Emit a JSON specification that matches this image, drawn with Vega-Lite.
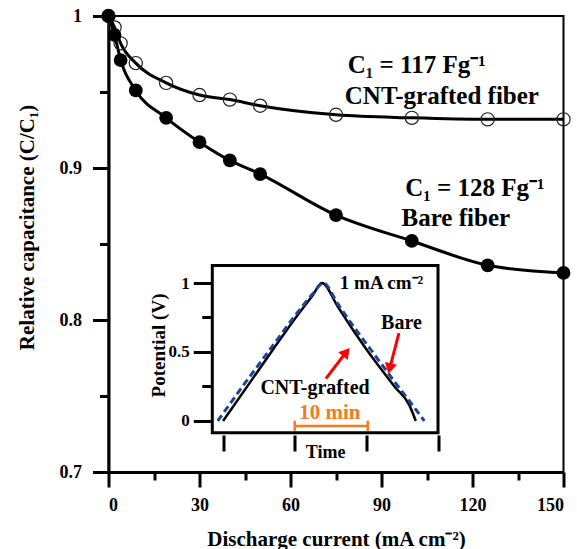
{
  "$schema": "https://vega.github.io/schema/vega-lite/v6.json",
  "width": 455,
  "height": 456,
  "autosize": "none",
  "padding": {"left": 108.5, "top": 16, "right": 13.5, "bottom": 77},
  "background": "white",
  "config": {
    "view": {"stroke": "black", "strokeWidth": 2},
    "font": "Liberation Serif",
    "axis": {
      "labelFont": "Liberation Serif", "titleFont": "Liberation Serif",
      "labelFontWeight": "bold", "titleFontWeight": "bold",
      "labelColor": "black", "titleColor": "black",
      "tickColor": "black", "domainColor": "black", "grid": false
    }
  },
  "datasets": {
    "capacitance": [
      {"fiber": "CNT-grafted fiber", "current": 0, "ratio": 1.0},
      {"fiber": "CNT-grafted fiber", "current": 2, "ratio": 0.9925},
      {"fiber": "CNT-grafted fiber", "current": 4, "ratio": 0.982},
      {"fiber": "CNT-grafted fiber", "current": 9, "ratio": 0.969},
      {"fiber": "CNT-grafted fiber", "current": 19, "ratio": 0.956},
      {"fiber": "CNT-grafted fiber", "current": 30, "ratio": 0.948},
      {"fiber": "CNT-grafted fiber", "current": 40, "ratio": 0.945},
      {"fiber": "CNT-grafted fiber", "current": 50, "ratio": 0.941},
      {"fiber": "CNT-grafted fiber", "current": 75, "ratio": 0.935},
      {"fiber": "CNT-grafted fiber", "current": 100, "ratio": 0.933},
      {"fiber": "CNT-grafted fiber", "current": 125, "ratio": 0.932},
      {"fiber": "CNT-grafted fiber", "current": 150, "ratio": 0.932},
      {"fiber": "Bare fiber", "current": 0, "ratio": 1.0},
      {"fiber": "Bare fiber", "current": 2, "ratio": 0.9875},
      {"fiber": "Bare fiber", "current": 4, "ratio": 0.971},
      {"fiber": "Bare fiber", "current": 9, "ratio": 0.951},
      {"fiber": "Bare fiber", "current": 19, "ratio": 0.933},
      {"fiber": "Bare fiber", "current": 30, "ratio": 0.917},
      {"fiber": "Bare fiber", "current": 40, "ratio": 0.905},
      {"fiber": "Bare fiber", "current": 50, "ratio": 0.896},
      {"fiber": "Bare fiber", "current": 75, "ratio": 0.869},
      {"fiber": "Bare fiber", "current": 100, "ratio": 0.852},
      {"fiber": "Bare fiber", "current": 125, "ratio": 0.836},
      {"fiber": "Bare fiber", "current": 150, "ratio": 0.831}
    ],
    "mainLabels": [
      {"text": "C₁ = 117 Fg⁻¹", "current": 101.6, "ratio": 0.9678},
      {"text": "CNT-grafted fiber", "current": 109.9, "ratio": 0.9474},
      {"text": "C₁ = 128 Fg⁻¹", "current": 120.8, "ratio": 0.8866},
      {"text": "Bare fiber", "current": 114.5, "ratio": 0.8669}
    ],
    "potential": [
      {"sample": "CNT-grafted", "time": 0, "potential": 0},
      {"sample": "CNT-grafted", "time": 3.5, "potential": 0.26},
      {"sample": "CNT-grafted", "time": 7, "potential": 0.52},
      {"sample": "CNT-grafted", "time": 10, "potential": 0.74},
      {"sample": "CNT-grafted", "time": 12.5, "potential": 0.91},
      {"sample": "CNT-grafted", "time": 13.8, "potential": 1.0},
      {"sample": "CNT-grafted", "time": 16, "potential": 0.83},
      {"sample": "CNT-grafted", "time": 18, "potential": 0.67},
      {"sample": "CNT-grafted", "time": 20, "potential": 0.52},
      {"sample": "CNT-grafted", "time": 22, "potential": 0.38},
      {"sample": "CNT-grafted", "time": 24, "potential": 0.245},
      {"sample": "CNT-grafted", "time": 26, "potential": 0.115},
      {"sample": "CNT-grafted", "time": 26.9, "potential": 0},
      {"sample": "Bare", "time": -0.75, "potential": 0},
      {"sample": "Bare", "time": 3, "potential": 0.27},
      {"sample": "Bare", "time": 7, "potential": 0.55},
      {"sample": "Bare", "time": 10, "potential": 0.76},
      {"sample": "Bare", "time": 12.5, "potential": 0.92},
      {"sample": "Bare", "time": 14, "potential": 1.0},
      {"sample": "Bare", "time": 16, "potential": 0.85},
      {"sample": "Bare", "time": 18, "potential": 0.7},
      {"sample": "Bare", "time": 20, "potential": 0.56},
      {"sample": "Bare", "time": 22, "potential": 0.42},
      {"sample": "Bare", "time": 24, "potential": 0.28},
      {"sample": "Bare", "time": 26, "potential": 0.145},
      {"sample": "Bare", "time": 28.1, "potential": 0}
    ],
    "minorTicks": [
      {"potential": 0.25},
      {"potential": 0.75}
    ],
    "arrows": [
      {"target": "CNT-grafted", "time": 14.35, "potential": 0.307, "time2": 17.2, "potential2": 0.5},
      {"target": "Bare", "time": 24.55, "potential": 0.636, "time2": 23.25, "potential2": 0.38}
    ],
    "scaleBar": [
      {"label": "10 min", "start": 10, "end": 20.2}
    ],
    "insetLabels": [
      {"text": "1 mA cm⁻²", "time": 16.3, "potential": 1.0},
      {"text": "Bare", "time": 24.9, "potential": 0.712},
      {"text": "CNT-grafted", "time": 12.84, "potential": 0.237}
    ]
  },
  "layer": [
    {
      "layer": [
        {
          "data": {"name": "capacitance"},
          "mark": {"type": "line", "interpolate": "monotone", "stroke": "black", "strokeWidth": 3},
          "encoding": {
            "x": {
              "field": "current", "type": "quantitative",
              "scale": {"domain": [0, 150], "nice": false, "zero": false},
              "axis": {
                "values": [0, 15, 30, 45, 60, 75, 90, 105, 120, 135, 150],
                "labelExpr": "datum.value % 30 === 0 ? datum.label : ''",
                "tickSize": {"condition": {"test": "datum.value % 30 !== 0", "value": 8}, "value": 15},
                "tickWidth": 3, "domainWidth": 3,
                "labelFontSize": 18, "labelPadding": 9,
                "title": "Discharge current (mA cm⁻²)", "titleFontSize": 21,
                "titleY": 73, "titleBaseline": "alphabetic"
              }
            },
            "y": {
              "field": "ratio", "type": "quantitative",
              "scale": {"domain": [0.7, 1.0], "nice": false, "zero": false},
              "axis": {
                "values": [0.7, 0.75, 0.8, 0.85, 0.9, 0.95, 1.0],
                "labelExpr": "round(datum.value * 100) % 10 === 0 ? format(datum.value, '~g') : ''",
                "tickSize": {"condition": {"test": "round(datum.value * 100) % 10 !== 0", "value": 9}, "value": 16},
                "tickWidth": 3, "domainWidth": 3,
                "labelFontSize": 18, "labelPadding": 11,
                "title": "Relative capacitance (C/C₁)", "titleFontSize": 21,
                "titleX": -71, "titleY": 211
              }
            },
            "detail": {"field": "fiber"}
          }
        },
        {
          "data": {"name": "capacitance"},
          "transform": [{"filter": "datum.fiber === 'CNT-grafted fiber'"}],
          "mark": {"type": "point", "shape": "circle", "filled": false, "stroke": "#222", "strokeWidth": 1.2, "size": 175, "opacity": 1},
          "encoding": {
            "x": {"field": "current", "type": "quantitative"},
            "y": {"field": "ratio", "type": "quantitative"}
          }
        },
        {
          "data": {"name": "capacitance"},
          "transform": [{"filter": "datum.fiber === 'Bare fiber'"}],
          "mark": {"type": "point", "shape": "circle", "filled": true, "fill": "black", "size": 190, "opacity": 1},
          "encoding": {
            "x": {"field": "current", "type": "quantitative"},
            "y": {"field": "ratio", "type": "quantitative"}
          }
        },
        {
          "data": {"name": "mainLabels"},
          "mark": {"type": "text", "font": "Liberation Serif", "fontWeight": "bold", "fontSize": 25, "align": "center", "baseline": "middle", "color": "black"},
          "encoding": {
            "x": {"field": "current", "type": "quantitative"},
            "y": {"field": "ratio", "type": "quantitative"},
            "text": {"field": "text"}
          }
        }
      ]
    },
    {
      "layer": [
        {
          "data": {"values": [{"panel": "inset"}]},
          "mark": {"type": "rect", "fill": "white", "stroke": "black", "strokeWidth": 3},
          "encoding": {
            "x": {
              "datum": -1.5, "type": "quantitative",
              "scale": {"domain": [-1.5, 30], "range": [103.8, 329.5], "nice": false, "zero": false},
              "axis": {
                "orient": "bottom", "offset": -37,
                "values": [0, 10, 20, 30], "labels": false, "domain": false,
                "tickSize": 16, "tickWidth": 3,
                "title": "Time", "titleFontSize": 18, "titleY": 22, "titleBaseline": "alphabetic"
              }
            },
            "x2": {"datum": 30},
            "y": {
              "datum": -0.085, "type": "quantitative",
              "scale": {"domain": [-0.085, 1.127], "range": [416.7, 249.5], "nice": false, "zero": false},
              "axis": {
                "orient": "left", "offset": -103.8,
                "values": [0, 0.5, 1],
                "format": "~g",
                "tickSize": 19,
                "tickWidth": 3, "domain": false,
                "labelFontSize": 17, "labelPadding": 4,
                "title": "Potential (V)", "titleFontSize": 19,
                "titleX": -44, "titleY": 329
              }
            },
            "y2": {"datum": 1.127}
          }
        },
        {
          "data": {"name": "minorTicks"},
          "mark": {"type": "rule", "stroke": "black", "strokeWidth": 3},
          "encoding": {
            "x": {"datum": -2.9, "type": "quantitative"},
            "x2": {"datum": -1.5},
            "y": {"field": "potential", "type": "quantitative"}
          }
        },
        {
          "data": {"name": "potential"},
          "transform": [{"filter": "datum.sample === 'CNT-grafted'"}],
          "mark": {"type": "line", "interpolate": "monotone", "stroke": "black", "strokeWidth": 2.5},
          "encoding": {
            "x": {"field": "time", "type": "quantitative"},
            "y": {"field": "potential", "type": "quantitative"}
          }
        },
        {
          "data": {"name": "potential"},
          "transform": [{"filter": "datum.sample === 'Bare'"}],
          "mark": {"type": "line", "interpolate": "monotone", "stroke": "#1c4597", "strokeWidth": 3, "strokeDash": [7, 4]},
          "encoding": {
            "x": {"field": "time", "type": "quantitative"},
            "y": {"field": "potential", "type": "quantitative"}
          }
        },
        {
          "data": {"name": "scaleBar"},
          "mark": {"type": "rule", "stroke": "#f47b20", "strokeWidth": 2.5},
          "encoding": {
            "x": {"field": "start", "type": "quantitative"},
            "x2": {"field": "end"},
            "y": {"datum": -0.036, "type": "quantitative"}
          }
        },
        {
          "data": {"name": "scaleBar"},
          "transform": [{"fold": ["start", "end"], "as": ["edge", "time"]}],
          "mark": {"type": "rule", "stroke": "#f47b20", "strokeWidth": 2.5},
          "encoding": {
            "x": {"field": "time", "type": "quantitative"},
            "y": {"datum": 0.002, "type": "quantitative"},
            "y2": {"datum": -0.072}
          }
        },
        {
          "data": {"name": "scaleBar"},
          "mark": {"type": "text", "font": "Liberation Serif", "fontWeight": "bold", "fontSize": 21, "color": "#f47b20", "align": "center", "baseline": "alphabetic"},
          "encoding": {
            "x": {"datum": 14.9, "type": "quantitative"},
            "y": {"datum": 0.012, "type": "quantitative"},
            "text": {"field": "label"}
          }
        },
        {
          "data": {"name": "arrows"},
          "mark": {"type": "rule", "stroke": "#ff0000", "strokeWidth": 3},
          "encoding": {
            "x": {"field": "time", "type": "quantitative"},
            "y": {"field": "potential", "type": "quantitative"},
            "x2": {"field": "time2"},
            "y2": {"field": "potential2"}
          }
        },
        {
          "data": {"name": "arrows"},
          "transform": [{"filter": "datum.target === 'CNT-grafted'"}],
          "mark": {"type": "point", "shape": "triangle-up", "filled": true, "fill": "#ff0000", "size": 150, "angle": 39, "opacity": 1},
          "encoding": {
            "x": {"field": "time2", "type": "quantitative"},
            "y": {"field": "potential2", "type": "quantitative"}
          }
        },
        {
          "data": {"name": "arrows"},
          "transform": [{"filter": "datum.target === 'Bare'"}],
          "mark": {"type": "point", "shape": "triangle-up", "filled": true, "fill": "#ff0000", "size": 150, "angle": 193.5, "opacity": 1},
          "encoding": {
            "x": {"field": "time2", "type": "quantitative"},
            "y": {"field": "potential2", "type": "quantitative"}
          }
        },
        {
          "data": {"name": "insetLabels"},
          "transform": [{"filter": "datum.text !== '1 mA cm⁻²'"}],
          "mark": {"type": "text", "font": "Liberation Serif", "fontWeight": "bold", "fontSize": 20, "align": "center", "baseline": "middle", "color": "black"},
          "encoding": {
            "x": {"field": "time", "type": "quantitative"},
            "y": {"field": "potential", "type": "quantitative"},
            "text": {"field": "text"}
          }
        },
        {
          "data": {"name": "insetLabels"},
          "transform": [{"filter": "datum.text === '1 mA cm⁻²'"}],
          "mark": {"type": "text", "font": "Liberation Serif", "fontWeight": "bold", "fontSize": 19, "align": "left", "baseline": "middle", "color": "black"},
          "encoding": {
            "x": {"field": "time", "type": "quantitative"},
            "y": {"field": "potential", "type": "quantitative"},
            "text": {"field": "text"}
          }
        }
      ]
    }
  ],
  "resolve": {
    "scale": {"x": "independent", "y": "independent"},
    "axis": {"x": "independent", "y": "independent"}
  }
}
